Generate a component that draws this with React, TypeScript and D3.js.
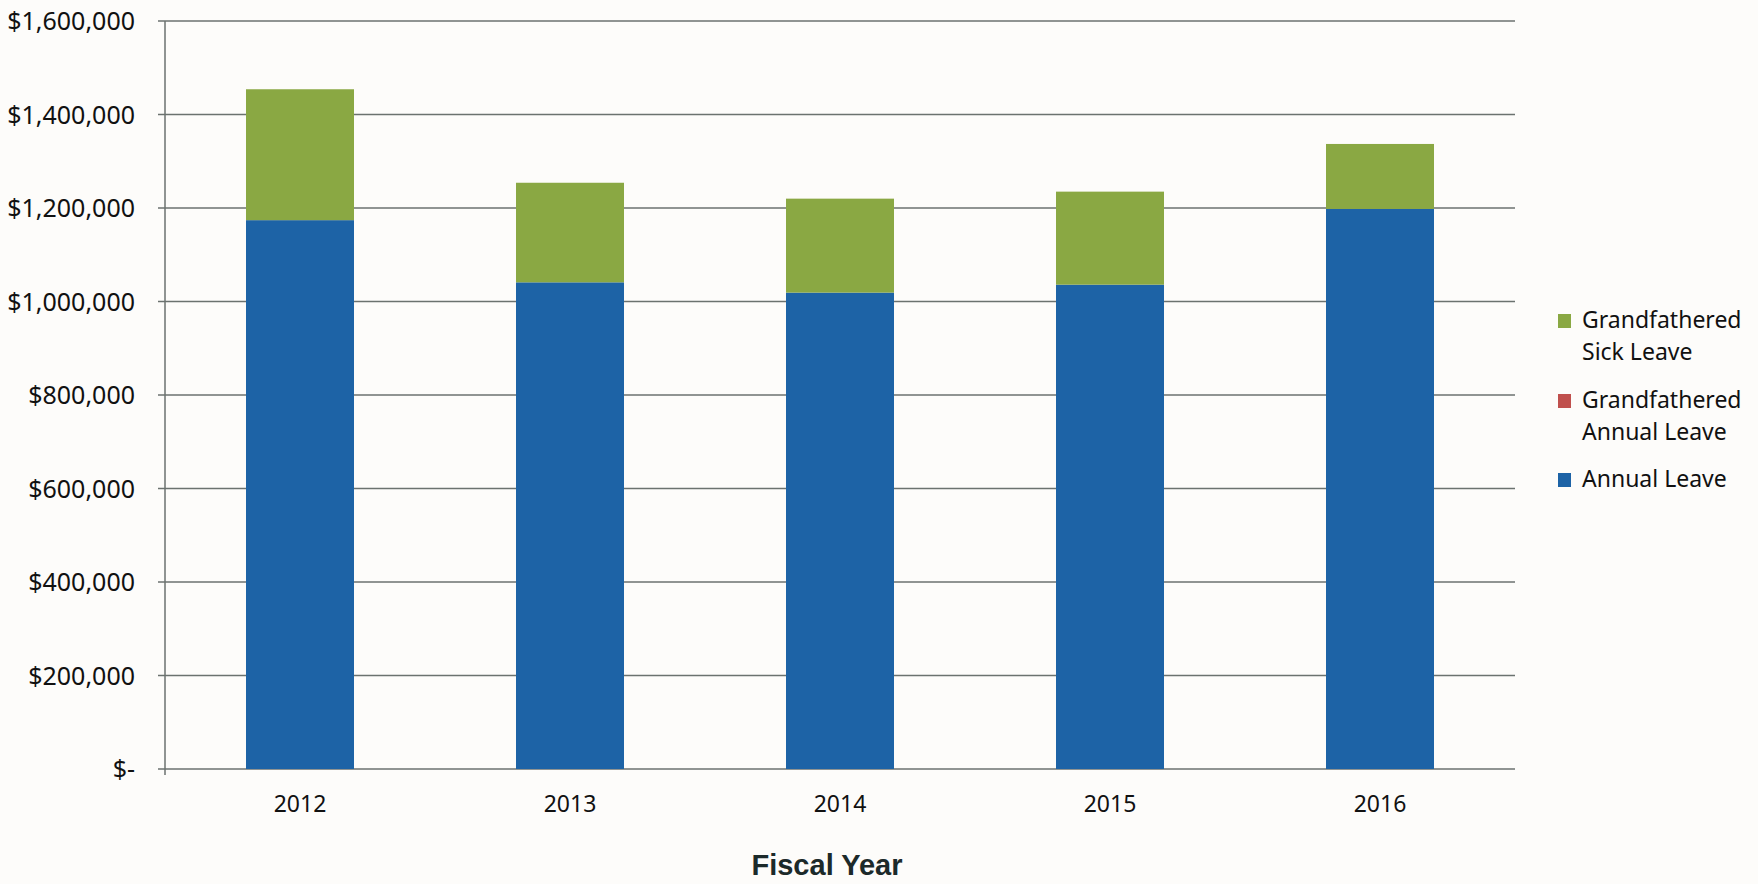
import { FC } from 'react';
import * as d3 from 'd3';

const years = ['2012', '2013', '2014', '2015', '2016'];
const annualLeave = [1174000, 1041000, 1019000, 1036000, 1198000];
const gfAnnualLeave = [0, 0, 0, 0, 0];
const gfSickLeave = [280000, 213000, 201000, 199000, 139000];
const yTicks = [0, 200000, 400000, 600000, 800000, 1000000, 1200000, 1400000, 1600000];

const seriesNames = ['Annual Leave', 'Grandfathered Annual Leave', 'Grandfathered Sick Leave'];
const seriesColors = ['#1d63a6', '#c0504d', '#8aa843'];

const W = 1758;
const H = 884;
const left = 165;
const right = 1515;
const top = 21;
const bottom = 769;
const font = "'Noto Sans', sans-serif";

const fmt = (v: number) => (v === 0 ? '$-' : '$' + d3.format(',')(v));

const App: FC = () => {
  const x = d3.scaleBand<string>().domain(years).range([left, right]).paddingInner(0.6).paddingOuter(0.3);
  const y = d3.scaleLinear().domain([0, 1600000]).range([bottom, top]);

  const table = years.map((yr, i) => ({
    year: yr,
    'Annual Leave': annualLeave[i],
    'Grandfathered Annual Leave': gfAnnualLeave[i],
    'Grandfathered Sick Leave': gfSickLeave[i],
  }));
  const stacked = d3.stack<any>().keys(seriesNames)(table);

  // legend, top entry first
  const legend = [
    { lines: ['Grandfathered', 'Sick Leave'], color: seriesColors[2], y: 328 },
    { lines: ['Grandfathered', 'Annual Leave'], color: seriesColors[1], y: 408 },
    { lines: ['Annual Leave'], color: seriesColors[0], y: 487 },
  ];

  return (
    <svg
      width={W}
      height={H}
      style={{ position: 'absolute', left: 0, top: 0, background: '#fdfcfa' }}
    >
      {yTicks.map((t) => (
        <g key={t}>
          <line x1={158} x2={right} y1={y(t)} y2={y(t)} stroke="#6b726f" strokeWidth={1.5} />
          <text
            x={135}
            y={y(t) + 9}
            textAnchor="end"
            fontFamily={font}
            fontSize={25}
            fill="#111"
          >
            {fmt(t)}
          </text>
        </g>
      ))}
      <line x1={left} x2={left} y1={top} y2={bottom + 6} stroke="#6b726f" strokeWidth={1.5} />

      {stacked.map((s, si) => (
        <g key={s.key} fill={seriesColors[si]}>
          {s.map((d, i) => (
            <rect
              key={i}
              x={x(years[i])}
              width={x.bandwidth()}
              y={y(d[1])}
              height={Math.max(0, y(d[0]) - y(d[1]))}
            />
          ))}
        </g>
      ))}

      {years.map((yr) => (
        <text
          key={yr}
          x={(x(yr) as number) + x.bandwidth() / 2}
          y={812}
          textAnchor="middle"
          fontFamily={font}
          fontSize={23}
          fill="#111"
        >
          {yr}
        </text>
      ))}

      <text
        x={827}
        y={875}
        textAnchor="middle"
        fontFamily="'Liberation Sans', Arial, sans-serif"
        fontWeight="bold"
        fontSize={29}
        fill="#1c2a2a"
      >
        Fiscal Year
      </text>

      {legend.map((l) => (
        <g key={l.lines.join(' ')}>
          <rect x={1558} y={l.y - 14} width={13} height={14} fill={l.color} />
          {l.lines.map((ln, j) => (
            <text
              key={j}
              x={1582}
              y={l.y + j * 32}
              fontFamily={font}
              fontSize={23}
              fill="#111"
            >
              {ln}
            </text>
          ))}
        </g>
      ))}
    </svg>
  );
};

export default App;
